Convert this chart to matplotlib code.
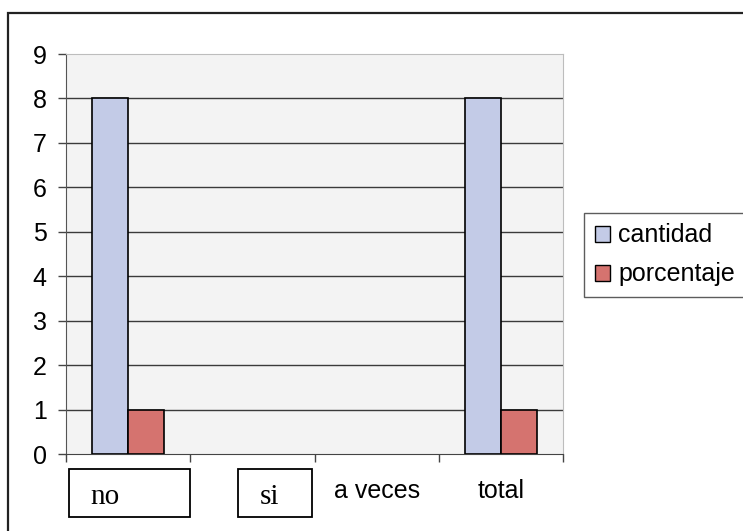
import matplotlib
matplotlib.use("Agg")
import matplotlib.pyplot as plt
from matplotlib.patches import Rectangle, Patch
from matplotlib.transforms import ScaledTranslation, Bbox, TransformedBbox
import numpy as np

categories = ["no", "si", "a veces", "total"]
cantidad = [8, 0, 0, 8]
porcentaje = [1, 0, 0, 1]
y_ticks = list(range(0, 10))

color_cant = "#C3CBE7"
color_porc = "#D5736F"

W, H = 743, 531
fig = plt.figure(figsize=(W / 100, H / 100), dpi=100)
ax = fig.add_axes([66 / W, 1 - 454 / H, (563 - 66) / W, (454 - 54) / H])
ax.set_facecolor("#F3F3F3")

x = np.arange(len(categories))
width = 0.29
# empty bars get no outline, as in the original
ax.bar(x - width / 2, cantidad, width, color=color_cant, edgecolor="black",
       linewidth=[1.2 if v else 0 for v in cantidad], zorder=3)
ax.bar(x + width / 2, porcentaje, width, color=color_porc, edgecolor="black",
       linewidth=[1.2 if v else 0 for v in porcentaje], zorder=3)

ax.set_xlim(-0.5, len(categories) - 0.5)
ax.set_ylim(0, 9)
ax.set_yticks(y_ticks)
ax.set_yticklabels([str(v) for v in y_ticks], fontsize=18, family="Liberation Sans")
for v in y_ticks[1:-1]:
    ax.axhline(v, color="#3A3A3A", linewidth=1.0, zorder=1)

ax.spines["top"].set_color("#BDBDBD")
ax.spines["right"].set_color("#BDBDBD")
ax.spines["left"].set_color("#555555")
ax.spines["bottom"].set_color("#444444")
ax.tick_params(axis="y", direction="out", length=6, width=1, color="#444444", pad=8)

# category boundaries get the small tick marks
ax.set_xticks(np.arange(len(categories) + 1) - 0.5, minor=True)
ax.tick_params(axis="x", which="minor", direction="out", length=6, width=1, color="#444444")
ax.set_xticks(x)
ax.set_xticklabels(categories, fontsize=18, family="Liberation Sans")
ax.tick_params(axis="x", which="major", length=0, pad=18)

# the first two labels sit in boxes, in a serif face, cut off at the bottom
box_px = {"no": (69, 469, 190, 517), "si": (238, 469, 312, 517)}
shift_px = {"no": (-23, -5), "si": (17, -5)}
for lab in ax.get_xticklabels():
    t = lab.get_text()
    if t in box_px:
        x0, y0, x1, y1 = box_px[t]
        fig.patches.append(Rectangle((x0 / W, 1 - y1 / H), (x1 - x0) / W, (y1 - y0) / H,
                                     transform=fig.transFigure, fill=False,
                                     edgecolor="black", linewidth=1.3))
        lab.set_fontfamily("Liberation Serif")
        lab.set_fontsize(21)
        dx, dy = shift_px[t]
        lab.set_transform(lab.get_transform() + ScaledTranslation(dx / 100, dy / 100, fig.dpi_scale_trans))
        clip = TransformedBbox(Bbox([[x0 / W, 1 - 504 / H], [x1 / W, 1 - y0 / H]]), fig.transFigure)
        lab.set_clip_box(clip)

handles = [Patch(facecolor=color_cant, edgecolor="black", label="cantidad"),
           Patch(facecolor=color_porc, edgecolor="black", label="porcentaje")]
leg = fig.legend(handles=handles, loc="upper left", bbox_to_anchor=(584 / W, 1 - 213 / H),
                 prop={"family": "Liberation Sans", "size": 18},
                 frameon=True, fancybox=False, borderaxespad=0, borderpad=0.42,
                 handlelength=0.6, handleheight=0.6, handletextpad=0.35, labelspacing=0.6)
leg.get_frame().set_edgecolor("#333333")
leg.get_frame().set_linewidth(1.0)

# outer chart border, runs off the right and bottom edges
fig.patches.append(Rectangle((8 / W, -0.05), 1.1, 1.05 - 13 / H, transform=fig.transFigure,
                             fill=False, edgecolor="#222222", linewidth=1.6))

fig.savefig("out.png", dpi=100)
